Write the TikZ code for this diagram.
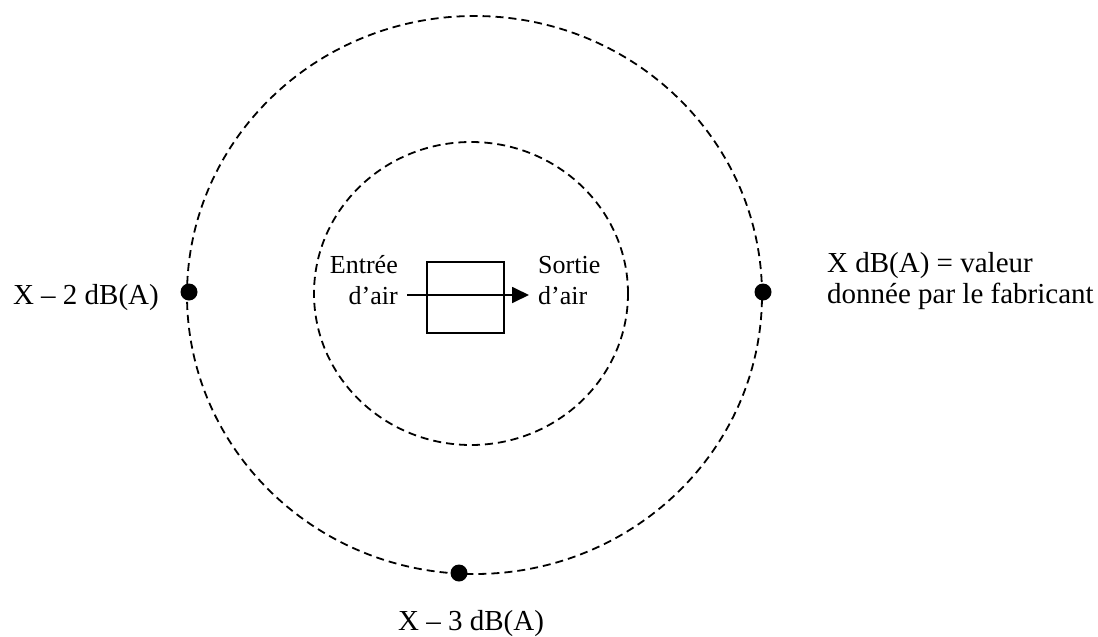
\documentclass[tikz,border=0pt]{standalone}
\usepackage{fontspec}
\setmainfont{Liberation Serif}
\usetikzlibrary{arrows.meta,shapes.geometric}
\begin{document}
\begin{tikzpicture}[x=1pt,y=-1pt,
  ring/.style={draw, ellipse, line width=1.8pt, dash pattern=on 8pt off 5pt, inner sep=0},
  dot/.style={circle, fill=black, draw=none, inner sep=0, minimum size=17pt},
  lbl/.style={font=\fontsize{29}{31}\selectfont, inner sep=0},
  small/.style={font=\fontsize{26}{31}\selectfont, inner sep=0},
  unitbox/.style={draw, line width=1.8pt, inner sep=0, minimum width=77pt, minimum height=71pt},
  flow/.style={line width=1.8pt, -{Triangle[length=17pt,width=16pt]}}
]
\useasboundingbox (0,0) rectangle (1098,637);
\node[ring, minimum width=575pt, minimum height=558pt] (outer) at (474.5,295) {};
\node[ring, minimum width=314pt, minimum height=303pt] (inner) at (471,293.5) {};
\node[unitbox] (unit) at (465.5,297.5) {};
\coordinate (ain) at (407,295);
\coordinate (aout) at (529,295);
\draw[flow] (ain) -- (aout);
\node[dot] (dleft) at (189,292) {};
\node[dot] (dright) at (763,292) {};
\node[dot] (dbottom) at (459,573) {};
\node[small, anchor=base east] (entree) at (398,273) {Entrée};
\node[small, anchor=base east] (entree2) at (398,304) {d’air};
\node[small, anchor=base west] (sortie) at (538,273) {Sortie};
\node[small, anchor=base west] (sortie2) at (538,304) {d’air};
\node[lbl, anchor=base east] (l2) at (159,304) {X – 2 dB(A)};
\node[lbl, anchor=base west] (l3) at (398,630) {X – 3 dB(A)};
\node[lbl, anchor=base west] (lx) at (827,272) {X dB(A) = valeur};
\node[lbl, anchor=base west] (lx2) at (827,303) {donnée par le fabricant};
\end{tikzpicture}
\end{document}
